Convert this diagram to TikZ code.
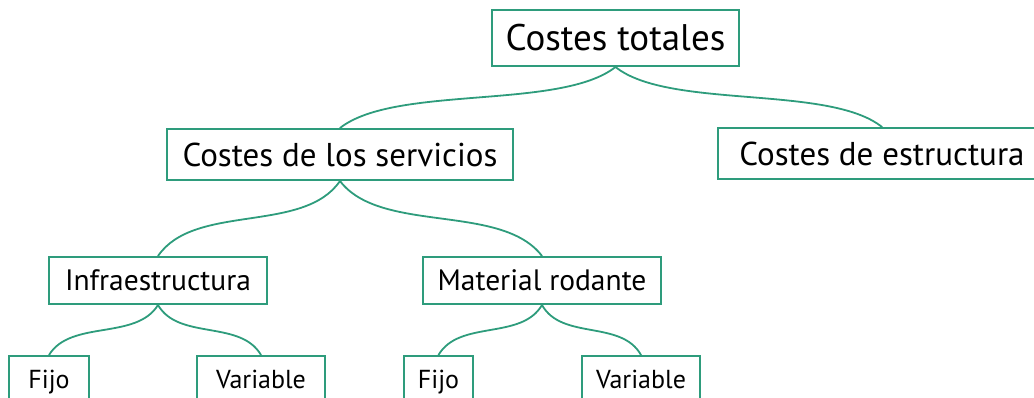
\documentclass[tikz,border=0pt]{standalone}
\usepackage{fontspec}
\setmainfont{PT Sans}
\definecolor{treegreen}{HTML}{2E9C7C}

\begin{document}
\begin{tikzpicture}[
            x=1pt, y=-1pt,
            line cap=round,
            box/.style={draw=treegreen, line width=2pt, inner sep=0pt, text=black},
            size/.style={font=\fontsize{#1}{#1}\selectfont, text height={0.75*#1pt}, text depth={0.05*#1pt}},
            root box/.style={box, size=37, minimum width=247pt, minimum height=56pt},
            main box/.style={box, size=33, minimum height=51pt},
            part box/.style={box, size=29.5, minimum height=47pt},
            leaf box/.style={box, size=26, minimum height=46pt},
            branch/.style={draw=treegreen, line width=1.8pt},
        ]
        \useasboundingbox (0,0) rectangle (1034,397);

        % Top of the tree.
        \node[root box] (tot) at (615.5,38) {Costes totales};

        % Second level.
        \node[main box, minimum width=346pt] (serv) at (340,154.5) {Costes de los servicios};
        \node[main box, minimum width=328pt] (estr) at (882,153.5) {Costes de estructura};

        % Third level.
        \node[part box, minimum width=218pt] (infra) at (158,280.5) {Infraestructura};
        \node[part box, minimum width=238pt] (mat) at (542,280.5) {Material rodante};

        % Leaves, cut by the lower edge.
        \node[leaf box, minimum width=80pt] (infrafijo) at (49,379) {Fijo};
        \node[leaf box, minimum width=128pt] (infravar) at (261,379) {Variable};
        \node[leaf box, minimum width=69pt] (matfijo) at (438.5,379) {Fijo};
        \node[leaf box, minimum width=118pt] (matvar) at (641,379) {Variable};

        % Curved branches from each parent to its children.
        \foreach \a/\b in {tot/serv, tot/estr, serv/infra, serv/mat,
                           infra/infrafijo, infra/infravar, mat/matfijo, mat/matvar}{
            \path (\a.south) -- (\b.north)
                coordinate[pos=0.2] (q1) coordinate[pos=0.71] (q2)
                coordinate[pos=0.8] (q3) coordinate[pos=0.29] (q4);
            \draw[branch] (\a.south) .. controls (q1 |- q2) and (q3 |- q4) .. (\b.north);
        }
        \end{tikzpicture}
\end{document}
